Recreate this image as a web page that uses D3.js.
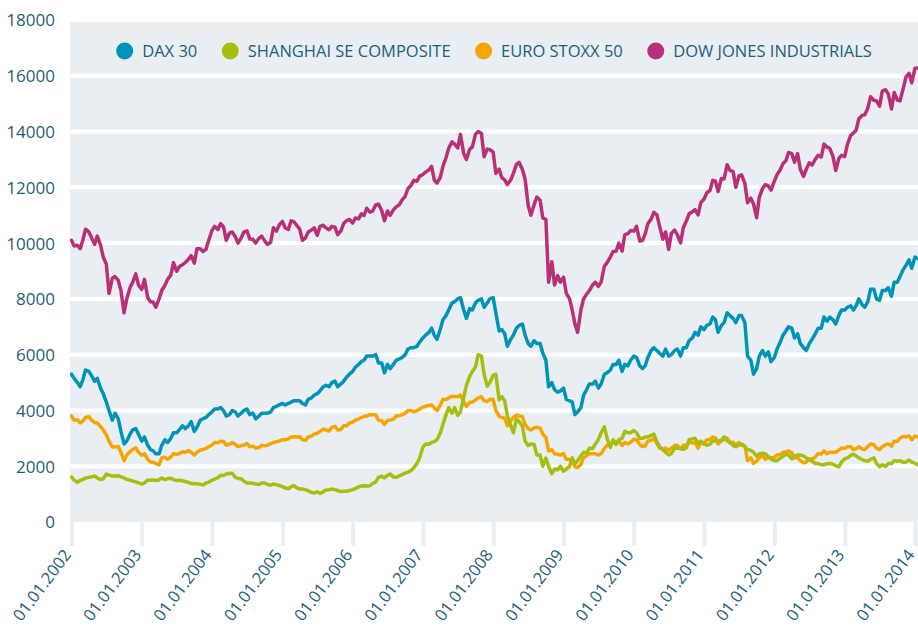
<!DOCTYPE html>
<html><head><meta charset="utf-8">
<script src="https://cdn.jsdelivr.net/npm/d3@7"></script>
<style>
body{margin:0;background:#fff}
svg{display:block}
text{font-family:"Open Sans",sans-serif;fill:#1d5e79}
</style>
</head><body>
<svg id="chart" width="918" height="628"></svg>
<script>
// ---------- DATA (semi-monthly readings: 1st and 15th of each month, Jan 2002 – Jan 2014) ----------
const seriesNames = ["DAX 30", "SHANGHAI SE COMPOSITE", "EURO STOXX 50", "DOW JONES INDUSTRIALS"];
const seriesColors = ["#0093b8", "#a6be0f", "#f6a500", "#b93079"];

const dax = [
5300,5150, 5000,4850, 5100,5450, 5400,5250, 5050,5150, 4800,4600, 4300,4000, 3650,3900, 3700,3250, 2800,2900, 3150,3300, 3350,3150,
2900,3050, 2750,2600, 2550,2450, 2450,2750, 2950,2850, 3000,3200, 3200,3300, 3450,3350, 3450,3600, 3250,3400, 3650,3700, 3750,3850,
3950,4050, 4050,4100, 4000,3800, 3850,4000, 3950,3800, 3900,4000, 4050,3850, 3900,3700, 3800,3900, 3900,3900, 3950,4100, 4150,4200,
4250,4200, 4250,4300, 4350,4350, 4350,4250, 4200,4400, 4450,4550, 4600,4700, 4850,4900, 4850,5000, 5050,4850, 4950,5050, 5200,5300,
5400,5550, 5650,5750, 5800,5950, 5950,5950, 6000,5700, 5700,5350, 5650,5500, 5650,5800, 5850,5900, 6000,6200, 6250,6250, 6300,6450,
6600,6700, 6800,6950, 6700,6550, 6900,7250, 7400,7600, 7850,7900, 8000,8050, 7600,7300, 7650,7600, 7850,7950, 8000,7700, 7850,8000,
8050,7500, 6850,6900, 6750,6300, 6550,6700, 6950,7050, 7100,6700, 6400,6300, 6500,6400, 6400,6050, 5800,4850, 5000,4750, 4650,4700,
4800,4400, 4350,4300, 3850,3950, 4100,4550, 4750,4950, 4950,5050, 4800,4950, 5300,5350, 5450,5650, 5650,5800, 5400,5650, 5600,5800,
5950,5900, 5600,5500, 5600,5900, 6150,6250, 6150,6050, 5950,6200, 5950,6000, 6150,6200, 5950,6250, 6250,6500, 6600,6800, 6700,7000,
6900,7050, 7100,7350, 7250,6800, 7050,7150, 7500,7400, 7300,7150, 7400,7400, 7150,5950, 5800,5300, 5500,5950, 6150,5950, 6100,5750,
5900,6200, 6450,6700, 6850,7000, 6950,6600, 6750,6400, 6250,6150, 6400,6550, 6750,6950, 6950,7350, 7200,7350, 7250,7100, 7400,7600,
7600,7700, 7750,7600, 7750,8000, 7800,7700, 7900,8350, 8350,8000, 7950,8300, 8300,8400, 8100,8600, 8600,8800, 9050,9200, 9400,9100,
9500,9450];

const shanghai = [
1620,1500, 1420,1500, 1520,1580, 1600,1620, 1650,1580, 1520,1550, 1720,1680, 1650,1650, 1660,1620, 1580,1530, 1500,1470, 1440,1400,
1360,1400, 1500,1500, 1510,1490, 1510,1580, 1520,1550, 1570,1520, 1490,1500, 1480,1450, 1420,1380, 1370,1370, 1350,1330, 1400,1430,
1500,1540, 1590,1680, 1670,1720, 1740,1750, 1600,1560, 1550,1460, 1400,1400, 1390,1360, 1340,1400, 1400,1350, 1320,1360, 1340,1310,
1270,1220, 1190,1270, 1300,1230, 1180,1180, 1160,1120, 1060,1040, 1080,1030, 1080,1150, 1160,1180, 1160,1130, 1090,1100, 1100,1130,
1160,1200, 1260,1290, 1300,1290, 1300,1380, 1440,1600, 1640,1580, 1670,1720, 1610,1600, 1660,1700, 1750,1790, 1840,1950, 2100,2300,
2680,2800, 2790,2850, 2880,2950, 3180,3500, 3840,4100, 3900,4100, 3820,3950, 4470,4900, 5220,5400, 5550,6000, 5950,5300, 4870,5000,
5260,5300, 4380,4500, 4350,3800, 3470,3200, 3690,3600, 3430,2900, 2740,2800, 2780,2400, 2400,2000, 2290,2000, 1730,1900, 1870,2000,
1820,1900, 1990,2300, 2080,2200, 2370,2500, 2480,2650, 2630,2800, 2960,3200, 3410,3000, 2670,2950, 2780,2950, 3000,3250, 3200,3200,
3280,3200, 2990,3000, 3050,3050, 3110,3150, 2870,2700, 2590,2500, 2400,2450, 2640,2650, 2640,2600, 2660,2950, 2980,3000, 2820,2900,
2810,2750, 2790,2900, 2910,2900, 2930,3050, 2910,2850, 2740,2700, 2760,2800, 2700,2600, 2570,2500, 2360,2450, 2470,2450, 2330,2250,
2200,2200, 2290,2350, 2430,2400, 2260,2350, 2400,2400, 2370,2300, 2230,2180, 2100,2100, 2050,2050, 2090,2100, 2070,2020, 1980,2150,
2270,2300, 2390,2430, 2370,2300, 2240,2200, 2180,2250, 2300,2100, 1980,2050, 1990,2100, 2100,2200, 2180,2200, 2140,2150, 2220,2150,
2110,2050];

const euroStoxx = [
3800,3650, 3670,3550, 3620,3750, 3780,3650, 3570,3550, 3420,3300, 3130,2900, 2690,2700, 2710,2500, 2200,2400, 2520,2600, 2660,2500,
2390,2450, 2250,2150, 2140,2100, 2050,2300, 2320,2250, 2330,2450, 2420,2450, 2520,2500, 2560,2500, 2400,2500, 2580,2600, 2630,2700,
2760,2850, 2840,2900, 2890,2750, 2790,2850, 2790,2700, 2740,2750, 2810,2700, 2720,2650, 2670,2750, 2730,2750, 2810,2850, 2880,2900,
2950,2950, 2980,3050, 3060,3050, 3060,2950, 2930,3050, 3080,3150, 3180,3250, 3330,3300, 3260,3400, 3430,3300, 3320,3450, 3450,3550,
3580,3650, 3690,3750, 3780,3800, 3850,3850, 3840,3650, 3640,3500, 3650,3650, 3690,3800, 3810,3850, 3900,4000, 4000,3950, 3990,4050,
4120,4150, 4180,4200, 4090,4000, 4180,4400, 4390,4450, 4510,4500, 4490,4550, 4320,4150, 4290,4300, 4380,4450, 4490,4350, 4320,4400,
4400,4000, 3790,3750, 3720,3450, 3630,3750, 3830,3800, 3780,3500, 3350,3300, 3370,3400, 3370,3150, 3040,2550, 2590,2450, 2430,2400,
2450,2250, 2240,2200, 1980,1950, 2070,2300, 2380,2450, 2450,2450, 2400,2450, 2640,2750, 2780,2850, 2870,2900, 2740,2850, 2800,2850,
2970,2950, 2780,2700, 2730,2900, 2930,3000, 2820,2650, 2610,2650, 2570,2650, 2740,2750, 2620,2750, 2750,2850, 2840,2850, 2650,2850,
2790,2950, 2950,3050, 3010,2800, 2910,2950, 3010,2850, 2860,2750, 2850,2750, 2730,2200, 2300,2100, 2180,2300, 2390,2250, 2330,2300,
2320,2400, 2420,2500, 2510,2550, 2480,2300, 2310,2200, 2120,2150, 2270,2250, 2330,2450, 2440,2550, 2450,2500, 2500,2500, 2580,2650,
2640,2700, 2700,2600, 2630,2700, 2620,2600, 2710,2800, 2770,2650, 2600,2700, 2770,2800, 2720,2900, 2890,3000, 3070,3050, 3090,2950,
3080,3050];

const dowJones = [
10100,9900, 9920,9800, 10110,10500, 10400,10200, 9950,10250, 9930,9500, 9240,8200, 8740,8800, 8660,8300, 7500,8000, 8400,8600, 8900,8500,
8340,8700, 8050,7900, 7890,7700, 8000,8300, 8480,8700, 8850,9300, 8990,9150, 9230,9300, 9420,9550, 9280,9800, 9800,9700, 9780,10100,
10450,10600, 10490,10700, 10580,10100, 10360,10400, 10230,10000, 10190,10400, 10440,10150, 10140,10000, 10170,10250, 10080,9950, 10030,10550, 10430,10650,
10780,10550, 10490,10800, 10770,10650, 10500,10100, 10190,10400, 10470,10550, 10280,10600, 10640,10550, 10480,10600, 10570,10300, 10440,10700, 10810,10850,
10720,10900, 10870,11050, 10990,11250, 11110,11150, 11370,11400, 11170,10800, 11150,11000, 11190,11300, 11380,11550, 11680,11950, 12080,12250, 12220,12400,
12460,12550, 12620,12750, 12270,12150, 12350,12750, 13060,13400, 13630,13550, 13410,13900, 13210,13000, 13360,13450, 13900,14000, 13930,13100, 13370,13350,
13260,12500, 12650,12350, 12270,12100, 12260,12500, 12820,12900, 12640,12300, 11350,11000, 11380,11650, 11540,10900, 10850,8600, 9330,8500, 8830,8600,
8780,8200, 8000,7600, 7100,6800, 7610,8000, 8170,8300, 8500,8600, 8450,8600, 9170,9300, 9500,9700, 9710,10000, 9710,10300, 10340,10450,
10430,10600, 10070,10100, 10330,10700, 10860,11100, 11010,10600, 10140,10400, 9770,10350, 10470,10300, 10010,10550, 10790,11050, 11120,11200, 11010,11450,
11580,11800, 11890,12250, 12230,11850, 12320,12300, 12810,12600, 12570,12000, 12410,12450, 12140,11450, 11610,11400, 10910,11650, 11960,12100, 12050,11900,
12220,12450, 12630,12850, 12950,13250, 13210,12900, 13210,12650, 12390,12650, 12880,12800, 13010,13150, 13090,13550, 13440,13400, 13100,12600, 13030,13150,
13100,13550, 13860,13950, 14050,14450, 14580,14600, 14840,15250, 15120,15100, 14910,15450, 15500,15350, 14810,15400, 15130,15100, 15550,15950, 16090,15750,
16270,16280];

const yTickValues = [0, 2000, 4000, 6000, 8000, 10000, 12000, 14000, 16000, 18000];
const xTickYears = [2002, 2003, 2004, 2005, 2006, 2007, 2008, 2009, 2010, 2011, 2012, 2013, 2014];

// dates: 1st and 15th of every month
const dates = [];
for (let y = 2002; y <= 2013; y++) for (let m = 0; m < 12; m++) { dates.push(new Date(Date.UTC(y, m, 1))); dates.push(new Date(Date.UTC(y, m, 15))); }
dates.push(new Date(Date.UTC(2014, 0, 1))); dates.push(new Date(Date.UTC(2014, 0, 15)));

const seriesValues = [dax, shanghai, euroStoxx, dowJones];
const drawOrder = [3, 0, 2, 1];

// ---------- LAYOUT ----------
const svg = d3.select("#chart");
const plotLeft = 70, plotRight = 918, plotTop = 20, plotBottom = 522;
const bg = "#e9eef2";
const textColor = "#1d5e79";
const font = '"Open Sans",sans-serif';

const x = d3.scaleUtc()
  .domain([new Date(Date.UTC(2002, 0, 1)), new Date(Date.UTC(2014, 0, 1))])
  .range([71.5, 915]);
const y = d3.scaleLinear().domain([0, 18000]).range([plotBottom, plotTop]);

// plot background
svg.append("rect").attr("x", plotLeft).attr("y", y(18000)).attr("width", plotRight - plotLeft)
  .attr("height", y(0) - y(18000)).attr("fill", bg);

// gridlines
svg.append("g").selectAll("line").data(yTickValues.filter(v => v > 0)).join("line")
  .attr("x1", plotLeft).attr("x2", plotRight)
  .attr("y1", d => y(d)).attr("y2", d => y(d))
  .attr("stroke", "#fff").attr("stroke-width", 4);

// y axis
const yAxis = d3.axisLeft(y).tickValues(yTickValues).tickSize(0).tickPadding(0).tickFormat(d3.format("d"));
const gy = svg.append("g").attr("transform", "translate(55,0)").call(yAxis);
gy.select(".domain").remove();
gy.selectAll("text").attr("font-size", 17).attr("dy", "0.35em").style("font-family", font).attr("fill", textColor);

// x axis
const xTicks = xTickYears.map(yr => new Date(Date.UTC(yr, 0, 1)));
const xAxis = d3.axisBottom(x).tickValues(xTicks).tickSize(24).tickFormat(d3.utcFormat("%d.%m.%Y"));
const gx = svg.append("g").attr("transform", `translate(0,${plotBottom})`).call(xAxis);
gx.select(".domain").remove();
gx.selectAll(".tick line").attr("stroke", bg).attr("stroke-width", 4);
gx.selectAll(".tick text")
  .attr("font-size", 16.5).attr("fill", textColor).style("font-family", font)
  .attr("text-anchor", "end").attr("y", 0).attr("dy", 0)
  .attr("transform", "translate(0,33) rotate(-53)");

// lines
svg.append("clipPath").attr("id", "plotclip").append("rect")
  .attr("x", plotLeft).attr("y", 0).attr("width", plotRight - plotLeft).attr("height", plotBottom);
const line = d3.line().x((d, i) => x(dates[i])).y(d => y(d)).curve(d3.curveLinear);
const gl = svg.append("g").attr("clip-path", "url(#plotclip)");
drawOrder.forEach(k => {
  gl.append("path").datum(seriesValues[k]).attr("d", line)
    .attr("fill", "none").attr("stroke", seriesColors[k]).attr("stroke-width", 3.5)
    .attr("stroke-linejoin", "round").attr("stroke-linecap", "round");
});

// legend
const lg = svg.append("g");
let cx = 0;
seriesNames.forEach((name, i) => {
  const g = lg.append("g");
  g.append("circle").attr("cx", cx).attr("cy", 51).attr("r", 8.5).attr("fill", seriesColors[i]);
  const t = g.append("text").attr("x", cx + 17.5).attr("y", 57).attr("font-size", 16.5).attr("fill", textColor).text(name);
  const w = t.node().getComputedTextLength();
  cx = cx + 17.5 + w + 33;
});
const bb = lg.node().getBBox();
const center = (plotLeft + plotRight) / 2;
lg.attr("transform", `translate(${center - (bb.x + bb.width / 2)},0)`);
</script>
</body></html>
